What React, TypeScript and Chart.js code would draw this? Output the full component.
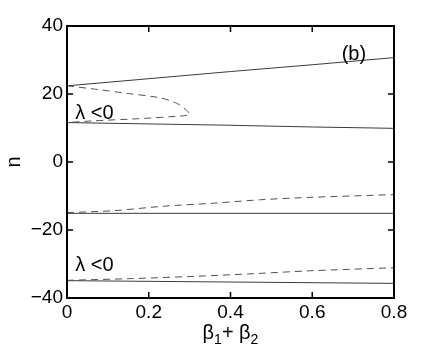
import React, { useEffect, useRef } from "react";
import { Chart, registerables } from "chart.js";

Chart.register(...registerables);

// ---- data ----
const upperSolidX = [0, 0.2, 0.4, 0.6, 0.8];
const upperSolidY = [22.4, 24.5, 26.6, 28.6, 30.7];

const midSolidX = [0, 0.2, 0.4, 0.6, 0.8];
const midSolidY = [11.6, 11.2, 10.8, 10.3, 9.9];

const foldDashX = [0, 0.07, 0.146, 0.228, 0.268, 0.29, 0.301, 0.292, 0.276, 0.186, 0.064, 0];
const foldDashY = [22.4, 21.4, 20.2, 18.9, 17.3, 15.5, 14.0, 13.7, 13.5, 12.8, 12.1, 11.6];

const centerDashX = [0, 0.115, 0.237, 0.36, 0.474, 0.594, 0.8];
const centerDashY = [-14.9, -14.3, -13.0, -12.1, -11.1, -10.4, -9.6];

const centerSolidX = [0, 0.8];
const centerSolidY = [-15.1, -15.1];

const lowerDashX = [0, 0.156, 0.318, 0.465, 0.594, 0.8];
const lowerDashY = [-34.8, -34.3, -33.6, -32.8, -32.0, -31.1];

const lowerSolidX = [0, 0.8];
const lowerSolidY = [-34.9, -35.7];

const xTickValues = [0, 0.2, 0.4, 0.6, 0.8];
const xTickLabels = ["0", "0.2", "0.4", "0.6", "0.8"];
const yTickValues = [-40, -20, 0, 20, 40];
const yTickLabels = ["\u221240", "\u221220", "0", "20", "40"];

const noteTexts = ["\u03bb <0", "\u03bb <0", "(b)"];
const noteX = [0.02, 0.02, 0.672];
const noteY = [12.6, -32.2, 30.0];

const yTitle = "n";

const FONT = "'Liberation Sans', Arial, Helvetica, sans-serif";

function pts(xs: number[], ys: number[]) {
  return xs.map((x, i) => ({ x, y: ys[i] }));
}

const solidColor = "#3a3a3a";
const dashColor = "#505050";

const decorPlugin = {
  id: "decor",
  afterDraw(chart: any) {
    const { ctx, chartArea } = chart;
    const xs = chart.scales.x;
    const ys = chart.scales.y;
    const { left, right, top, bottom } = chartArea;
    ctx.save();
    // box
    ctx.strokeStyle = "#000";
    ctx.lineWidth = 2;
    ctx.strokeRect(left, top, right - left, bottom - top);
    // inward ticks
    ctx.lineWidth = 1.5;
    const tl = 6;
    ctx.beginPath();
    xTickValues.forEach((v) => {
      const px = xs.getPixelForValue(v);
      ctx.moveTo(px, bottom);
      ctx.lineTo(px, bottom - tl);
      ctx.moveTo(px, top);
      ctx.lineTo(px, top + tl);
    });
    yTickValues.forEach((v) => {
      const py = ys.getPixelForValue(v);
      ctx.moveTo(left, py);
      ctx.lineTo(left + tl, py);
      ctx.moveTo(right, py);
      ctx.lineTo(right - tl, py);
    });
    ctx.stroke();

    // notes
    ctx.fillStyle = "#000";
    ctx.font = `20px ${FONT}`;
    ctx.textBaseline = "alphabetic";
    ctx.textAlign = "left";
    noteTexts.forEach((t, i) => {
      ctx.fillText(t, xs.getPixelForValue(noteX[i]), ys.getPixelForValue(noteY[i]));
    });

    // y title
    ctx.save();
    ctx.translate(20, (top + bottom) / 2);
    ctx.rotate(-Math.PI / 2);
    ctx.textAlign = "center";
    ctx.textBaseline = "alphabetic";
    ctx.font = `20px ${FONT}`;
    ctx.fillText(yTitle, 0, 0);
    ctx.restore();

    // x title: beta_1 + beta_2
    const parts = [
      { t: "\u03b2", sub: false },
      { t: "1", sub: true },
      { t: "+ \u03b2", sub: false },
      { t: "2", sub: true },
    ];
    const mainF = `20px ${FONT}`;
    const subF = `14px ${FONT}`;
    let total = 0;
    parts.forEach((p) => {
      ctx.font = p.sub ? subF : mainF;
      total += ctx.measureText(p.t).width;
    });
    let cx = (left + right) / 2 - total / 2;
    const base = 339;
    ctx.textAlign = "left";
    parts.forEach((p) => {
      ctx.font = p.sub ? subF : mainF;
      ctx.fillText(p.t, cx, p.sub ? base + 5 : base);
      cx += ctx.measureText(p.t).width;
    });
    ctx.restore();
  },
};

export default function App() {
  const ref = useRef<HTMLCanvasElement | null>(null);
  useEffect(() => {
    if (!ref.current) return;
    const mk = (xs: number[], ys: number[], dashed: boolean, tension = 0) => ({
      data: pts(xs, ys),
      showLine: true,
      borderColor: dashed ? dashColor : solidColor,
      borderWidth: 1,
      borderDash: dashed ? [7, 5] : [],
      pointRadius: 0,
      tension,
      fill: false,
    });
    const chart = new Chart(ref.current, {
      type: "scatter",
      data: {
        datasets: [
          mk(upperSolidX, upperSolidY, false),
          mk(midSolidX, midSolidY, false),
          mk(foldDashX, foldDashY, true, 0.2),
          mk(centerDashX, centerDashY, true, 0.3),
          mk(centerSolidX, centerSolidY, false),
          mk(lowerDashX, lowerDashY, true, 0.3),
          mk(lowerSolidX, lowerSolidY, false),
        ] as any,
      },
      options: {
        animation: false,
        responsive: false,
        devicePixelRatio: 1,
        layout: { padding: { top: 26, right: 42, left: 0, bottom: 0 } },
        plugins: { legend: { display: false }, tooltip: { enabled: false } },
        scales: {
          x: {
            type: "linear",
            min: 0,
            max: 0.8,
            afterBuildTicks: (s: any) => {
              s.ticks = xTickValues.map((v) => ({ value: v }));
            },
            afterFit: (s: any) => {
              s.height = 51;
            },
            ticks: {
              color: "#000",
              font: { family: FONT, size: 19 },
              padding: 3,
              maxRotation: 0,
              callback: (v: any) => {
                const i = xTickValues.findIndex((t) => Math.abs(t - v) < 1e-9);
                return i >= 0 ? xTickLabels[i] : "";
              },
            },
            grid: { display: false, drawTicks: false },
            border: { display: false },
          },
          y: {
            type: "linear",
            min: -40,
            max: 40,
            afterBuildTicks: (s: any) => {
              s.ticks = yTickValues.map((v) => ({ value: v }));
            },
            afterFit: (s: any) => {
              s.width = 67;
            },
            ticks: {
              color: "#000",
              font: { family: FONT, size: 19 },
              padding: 4,
              callback: (v: any) => {
                const i = yTickValues.findIndex((t) => Math.abs(t - v) < 1e-9);
                return i >= 0 ? yTickLabels[i] : "";
              },
            },
            grid: { display: false, drawTicks: false },
            border: { display: false },
          },
        },
      } as any,
      plugins: [decorPlugin],
    });
    return () => chart.destroy();
  }, []);
  return (
    <div style={{ position: "absolute", left: 0, top: 0, width: 436, height: 349, background: "#fff" }}>
      <canvas ref={ref} width={436} height={349} />
    </div>
  );
}
